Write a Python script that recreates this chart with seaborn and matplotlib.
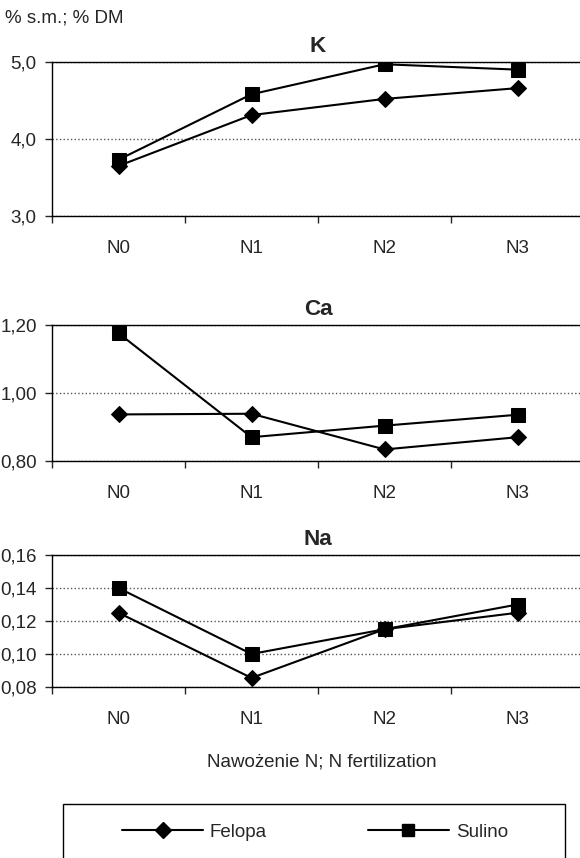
import pandas as pd
import matplotlib
matplotlib.use("Agg")
import matplotlib.pyplot as plt
import seaborn as sns
from matplotlib.patches import Rectangle

doses = ["N0", "N1", "N2", "N3"]
varieties = ["Felopa", "Sulino"]

k_felopa = [3.65, 4.31, 4.52, 4.66]
k_sulino = [3.73, 4.58, 4.97, 4.90]
ca_felopa = [0.937, 0.939, 0.834, 0.870]
ca_sulino = [1.176, 0.870, 0.904, 0.936]
na_felopa = [0.125, 0.0855, 0.115, 0.125]
na_sulino = [0.140, 0.100, 0.115, 0.130]

k_ticks = [3.0, 4.0, 5.0]
k_labels = ["3,0", "4,0", "5,0"]
ca_ticks = [0.80, 1.00, 1.20]
ca_labels = ["0,80", "1,00", "1,20"]
na_ticks = [0.08, 0.10, 0.12, 0.14, 0.16]
na_labels = ["0,08", "0,10", "0,12", "0,14", "0,16"]

sns.set_style("white")
plt.rcParams['font.family'] = ['Liberation Sans', 'DejaVu Sans']
plt.rcParams['font.size'] = 13.5

fig = plt.figure(figsize=(5.8, 8.58), dpi=100)

left = 52 / 580
width = 532 / 580
panels = [
    ("K", k_felopa, k_sulino, k_ticks, k_labels, [left, 0.7483, width, 0.1795]),
    ("Ca", ca_felopa, ca_sulino, ca_ticks, ca_labels, [left, 0.4627, width, 0.1585]),
    ("Na", na_felopa, na_sulino, na_ticks, na_labels, [left, 1 - 687 / 858, width, 132 / 858]),
]

for title, fel, sul, ticks, labels, pos in panels:
    ax = fig.add_axes(pos)
    df = pd.DataFrame({
        "dose": list(range(4)) * 2,
        "value": fel + sul,
        "variety": ["Felopa"] * 4 + ["Sulino"] * 4,
    })
    sns.lineplot(data=df, x="dose", y="value", hue="variety", style="variety",
                 markers={"Felopa": "D", "Sulino": "s"}, dashes=False,
                 palette={"Felopa": "black", "Sulino": "black"},
                 markersize=8, linewidth=1.5, markeredgecolor="black",
                 legend=False, ax=ax)
    for line in ax.lines:
        if line.get_marker() == "D":
            line.set_markersize(8)
        else:
            line.set_markersize(9.5)
    ax.set_xlim(-0.5, 3.5)
    ax.set_ylim(ticks[0], ticks[-1])
    ax.set_yticks(ticks)
    ax.set_yticklabels(labels)
    ax.set_xticks(range(4))
    ax.set_xticklabels(doses)
    ax.set_xticks([-0.5, 0.5, 1.5, 2.5], minor=True)
    ax.tick_params(axis="x", which="major", length=0, pad=17)
    ax.tick_params(axis="x", which="minor", length=5, width=1, direction="out", bottom=True)
    ax.tick_params(axis="y", length=5, width=1, direction="out", left=True, pad=6)
    ax.yaxis.grid(True, linestyle=":", color="#555555", linewidth=1)
    ax.xaxis.grid(False)
    for side in ["left", "bottom", "top"]:
        ax.spines[side].set_color("black")
        ax.spines[side].set_linewidth(1)
    ax.spines["right"].set_visible(False)
    ax.set_xlabel("")
    ax.set_ylabel("")
    ax.set_title(title, fontweight="bold", pad=7)

fig.text(0.009, 1 - 18 / 858, "% s.m.; % DM", va="center", ha="left")
fig.text(322 / 580, 1 - 762 / 858, "Nawożenie N; N fertilization", va="center", ha="center")

fig.patches.append(Rectangle((63 / 580, -0.05), (565 - 63) / 580, 0.05 + 54 / 858,
                             transform=fig.transFigure, fill=False,
                             edgecolor="black", linewidth=1))

handles = [
    plt.Line2D([], [], color="black", marker="D", markersize=8.5, linewidth=1.5),
    plt.Line2D([], [], color="black", marker="s", markersize=9, linewidth=1.5),
]
fig.legend(handles, varieties, loc="center", bbox_to_anchor=(315 / 580, 1 - 832 / 858),
           ncol=2, frameon=False, handlelength=4.3, handletextpad=0.37,
           columnspacing=5.4, fontsize=13.5)

fig.savefig("out.png", dpi=100)
